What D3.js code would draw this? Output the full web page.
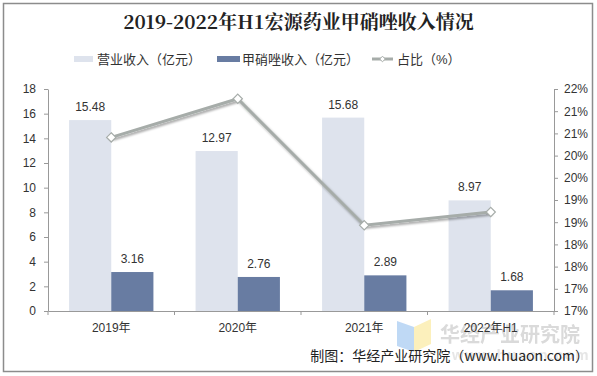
<!DOCTYPE html>
<html>
<head>
<meta charset="utf-8">
<script src="https://cdn.jsdelivr.net/npm/d3@7"></script>
<style>
  body { margin: 0; background: #fff; }
  text { font-family: "Liberation Sans", Arial, "Noto Sans CJK SC", sans-serif; }
</style>
</head>
<body>
<svg width="597" height="376"></svg>
<script>
// data
const years = ['2019年', '2020年', '2021年', '2022年H1'];
const revenue = [15.48, 12.97, 15.68, 8.97];      // 营业收入（亿元）
const metro = [3.16, 2.76, 2.89, 1.68];           // 甲硝唑收入（亿元）
const share = [20.41, 21.28, 18.43, 18.73];       // 占比（%）
const leftTicks = [0, 2, 4, 6, 8, 10, 12, 14, 16, 18];
const rightTicks = [16.5, 17, 17.5, 18, 18.5, 19, 19.5, 20, 20.5, 21, 21.5];
const rightLabels = ['17%', '17%', '18%', '18%', '19%', '19%', '20%', '20%', '21%', '21%', '22%'];

const svg = d3.select('svg');
const width = +svg.attr('width');
const height = +svg.attr('height');
const cjk = '"Noto Sans CJK SC", sans-serif';

// outer border
svg.append('rect')
  .attr('x', 3.5).attr('y', 3.5)
  .attr('width', 589).attr('height', 368)
  .attr('fill', '#fff').attr('stroke', '#8c8c8c').attr('stroke-width', 1.5);

const defs = svg.append('defs');
defs.append('filter').attr('id', 'shadow')
  .attr('x', '-10%').attr('y', '-10%').attr('width', '130%').attr('height', '140%')
  .append('feDropShadow')
  .attr('dx', 1.5).attr('dy', 2).attr('stdDeviation', 1.3)
  .attr('flood-color', '#000').attr('flood-opacity', 0.35);

// title
svg.append('text')
  .attr('x', width / 2).attr('y', 29)
  .attr('text-anchor', 'middle')
  .style('font-family', '"Noto Serif CJK SC", "Noto Sans CJK SC", serif')
  .style('font-size', '19px').style('font-weight', 'bold')
  .attr('fill', '#222')
  .text('2019-2022年H1宏源药业甲硝唑收入情况');

const pLeft = 48, pRight = 554, pTop = 89, pBottom = 311;

const x = d3.scaleBand().domain(years).range([pLeft, pRight]);
const yL = d3.scaleLinear().domain([0, 18]).range([pBottom, pTop]);
const yR = d3.scaleLinear().domain([16.5, 21.5]).range([pBottom, pTop]);
const inner = d3.scaleBand().domain(['rev', 'met']).range([0, x.bandwidth()]).paddingOuter(0.5).paddingInner(0);

// watermark behind
const wm = svg.append('g').attr('opacity', 0.9);
wm.append('path').attr('d', 'M397,321 L414,327 L414,352 L397,346 Z').attr('fill', '#b9d5f5');
wm.append('path').attr('d', 'M414,327 L431,319 L431,344 L414,352 Z').attr('fill', '#fcefb5');
wm.append('text').attr('x', 440).attr('y', 342)
  .style('font-family', cjk).style('font-size', '20px').style('font-weight', 'bold')
  .attr('fill', '#d6d6d6').text('华经产业研究院');
wm.append('text').attr('x', 452).attr('y', 360)
  .style('font-size', '15px').style('font-weight', 'bold')
  .attr('fill', '#e4e4e4').attr('letter-spacing', 1.5).text('www.huaon.com');

// bars
const groups = svg.append('g').selectAll('g').data(years).join('g')
  .attr('transform', d => `translate(${x(d)},0)`);

groups.append('rect')
  .attr('x', inner('rev')).attr('width', inner.bandwidth())
  .attr('y', (d, i) => yL(revenue[i]))
  .attr('height', (d, i) => pBottom - yL(revenue[i]))
  .attr('fill', '#dee3ed');
groups.append('rect')
  .attr('x', inner('met')).attr('width', inner.bandwidth())
  .attr('y', (d, i) => yL(metro[i]))
  .attr('height', (d, i) => pBottom - yL(metro[i]))
  .attr('fill', '#687ca2');

groups.append('text')
  .attr('x', inner('rev') + inner.bandwidth() / 2)
  .attr('y', (d, i) => yL(revenue[i]) - 9)
  .attr('text-anchor', 'middle').style('font-size', '12px').attr('fill', '#333')
  .text((d, i) => revenue[i].toFixed(2));
groups.append('text')
  .attr('x', inner('met') + inner.bandwidth() / 2)
  .attr('y', (d, i) => yL(metro[i]) - 9)
  .attr('text-anchor', 'middle').style('font-size', '12px').attr('fill', '#333')
  .text((d, i) => metro[i].toFixed(2));

// axes
const axL = svg.append('g').attr('transform', `translate(${pLeft},0)`)
  .call(d3.axisLeft(yL).tickValues(leftTicks).tickSize(4).tickSizeOuter(0).tickPadding(8));
const axR = svg.append('g').attr('transform', `translate(${pRight},0)`)
  .call(d3.axisRight(yR).tickValues(rightTicks).tickSize(4).tickSizeOuter(0).tickPadding(6)
    .tickFormat((d, i) => rightLabels[i]));
const axB = svg.append('g').attr('transform', `translate(0,${pBottom})`)
  .call(d3.axisBottom(x).tickSize(0).tickPadding(12));
// category boundary ticks
axB.selectAll('.sep').data(years.concat(['end'])).join('line')
  .attr('class', 'sep')
  .attr('x1', (d, i) => pLeft + i * x.bandwidth()).attr('x2', (d, i) => pLeft + i * x.bandwidth())
  .attr('y1', 0).attr('y2', 4).attr('stroke', '#999');

[axL, axR, axB].forEach(a => {
  a.selectAll('path, line').attr('stroke', '#999');
  a.selectAll('text').style('font-size', '12px').attr('fill', '#333')
    .style('font-family', '"Liberation Sans", Arial, "Noto Sans CJK SC", sans-serif');
});

// share line
const line = d3.line()
  .x((d, i) => x(years[i]) + x.bandwidth() / 2)
  .y(d => yR(d));
svg.append('path').datum(share)
  .attr('d', line)
  .attr('fill', 'none').attr('stroke', '#a6aca9').attr('stroke-width', 3)
  .attr('filter', 'url(#shadow)');
svg.append('g').selectAll('path').data(share).join('path')
  .attr('d', d3.symbol(d3.symbolDiamond2, 55))
  .attr('transform', (d, i) => `translate(${x(years[i]) + x.bandwidth() / 2},${yR(d)})`)
  .attr('fill', '#fff').attr('stroke', '#a6aca9').attr('stroke-width', 1.2);

// legend
const lg = svg.append('g').style('font-family', cjk).style('font-size', '13px');
lg.append('rect').attr('x', 74).attr('y', 56).attr('width', 19).attr('height', 6).attr('fill', '#dee3ed');
lg.append('text').attr('x', 97).attr('y', 64).attr('fill', '#333').text('营业收入（亿元）');
lg.append('rect').attr('x', 217).attr('y', 56).attr('width', 23).attr('height', 6).attr('fill', '#687ca2');
lg.append('text').attr('x', 242).attr('y', 64).attr('fill', '#333').text('甲硝唑收入（亿元）');
lg.append('line').attr('x1', 372).attr('x2', 393).attr('y1', 59).attr('y2', 59)
  .attr('stroke', '#a6aca9').attr('stroke-width', 3);
lg.append('path').attr('d', d3.symbol(d3.symbolDiamond2, 20))
  .attr('transform', 'translate(382.5,59)')
  .attr('fill', '#fff').attr('stroke', '#a6aca9');
lg.append('text').attr('x', 397).attr('y', 64).attr('fill', '#333').text('占比（%）');

// source
svg.append('text')
  .attr('x', 589).attr('y', 361).attr('text-anchor', 'end')
  .style('font-family', cjk).style('font-size', '14px').attr('fill', '#222')
  .text('制图：华经产业研究院（www.huaon.com）');
</script>
</body>
</html>
